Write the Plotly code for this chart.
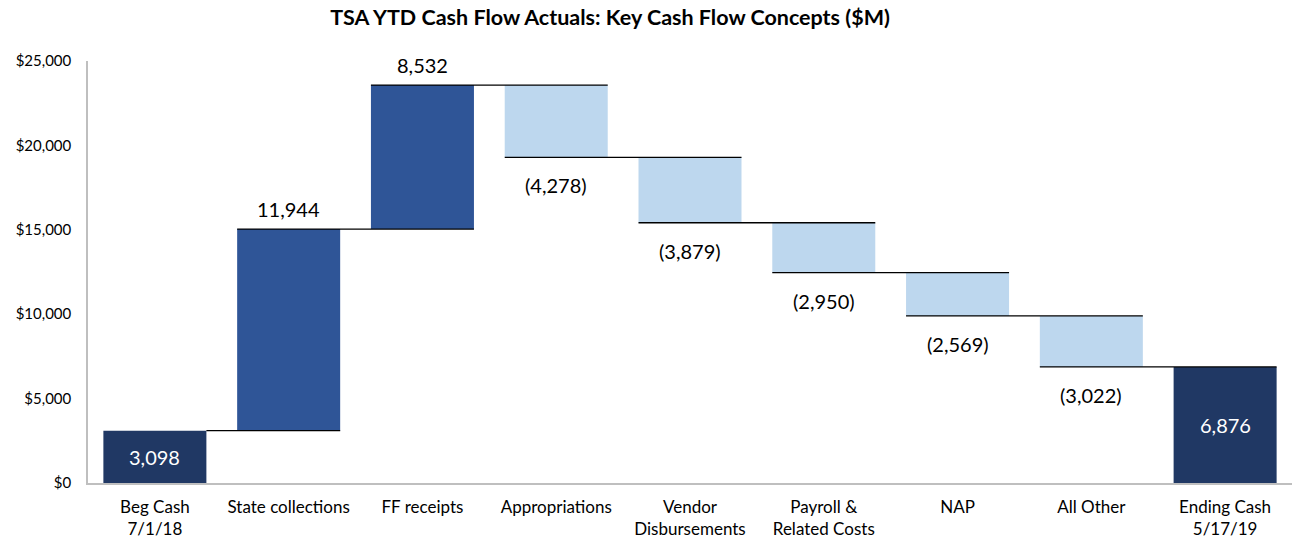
import plotly.graph_objects as go

categories = ["Beg Cash<br>7/1/18", "State collections", "FF receipts", "Appropriations",
              "Vendor<br>Disbursements", "Payroll &<br>Related Costs", "NAP", "All Other",
              "Ending Cash<br>5/17/19"]
values = [3098, 11944, 8532, -4278, -3879, -2950, -2569, -3022, 6876]
measures = ["absolute", "relative", "relative", "relative", "relative", "relative",
            "relative", "relative", "total"]
y_ticks = [0, 5000, 10000, 15000, 20000, 25000]
y_tick_labels = ["$0", "$5,000", "$10,000", "$15,000", "$20,000", "$25,000"]

FONT = "Lato, 'Open Sans', sans-serif"
GAP = 0.23
BAR_HALF = (1 - GAP) / 2

fig = go.Figure(go.Waterfall(
    x=categories,
    y=values,
    measure=measures,
    increasing=dict(marker=dict(color="#2F5597")),
    decreasing=dict(marker=dict(color="#BDD7EE")),
    totals=dict(marker=dict(color="#203864")),
    connector=dict(visible=False),
    textinfo="none",
    hoverinfo="skip",
))

# labels and connectors computed from the data
annotations = []
shapes = []
running = 0
ends = []
for i, (c, v, m) in enumerate(zip(categories, values, measures)):
    if m == "absolute":
        end = v
    elif m == "total":
        end = running
    else:
        end = running + v
    running = end
    ends.append(end)
    if m in ("absolute", "total"):
        annotations.append(dict(x=c, y=end / 2, text=f"{v:,}", showarrow=False,
                                font=dict(size=20, color="white", family=FONT),
                                xref="x", yref="y"))
    elif v >= 0:
        annotations.append(dict(x=c, y=end, text=f"{v:,}", showarrow=False,
                                yanchor="bottom", yshift=6,
                                font=dict(size=20, color="black", family=FONT),
                                xref="x", yref="y"))
    else:
        annotations.append(dict(x=c, y=end, text=f"({abs(v):,})", showarrow=False,
                                yanchor="top", yshift=-14,
                                font=dict(size=20, color="black", family=FONT),
                                xref="x", yref="y"))

for i in range(len(categories) - 1):
    x0 = i + BAR_HALF if measures[i] == "absolute" else i - BAR_HALF
    shapes.append(dict(type="line", xref="x", yref="y",
                       x0=x0, x1=i + 1 + BAR_HALF, y0=ends[i], y1=ends[i],
                       line=dict(color="black", width=1.3), layer="above"))

fig.update_layout(
    width=1298, height=542,
    margin=dict(l=88, r=6, t=61, b=59),
    paper_bgcolor="white", plot_bgcolor="white",
    showlegend=False,
    waterfallgap=GAP,
    font=dict(family=FONT, color="black"),
    title=dict(text="<b>TSA YTD Cash Flow Actuals: Key Cash Flow Concepts ($M)</b>",
               x=610 / 1298, y=1 - 17 / 542, xref="container", yref="container",
               xanchor="center", yanchor="middle",
               font=dict(size=21.5, color="black", family=FONT)),
    annotations=annotations,
    shapes=shapes,
    xaxis=dict(showline=True, linecolor="#BFBFBF", linewidth=1.5, ticks="",
               showgrid=False, tickfont=dict(size=17, color="black"),
               range=[-0.5, 8.5], automargin=False, ticklabelstandoff=8),
    yaxis=dict(range=[0, 25000], tickvals=y_ticks, ticktext=y_tick_labels,
               showline=True, linecolor="#BFBFBF", linewidth=1.5, showgrid=False,
               zeroline=False, ticks="", tickfont=dict(size=15, color="black"),
               automargin=False, ticklabelstandoff=12),
)

fig.write_html("out.html", config={"displayModeBar": False},
               post_script="document.body.style.margin='0';")
